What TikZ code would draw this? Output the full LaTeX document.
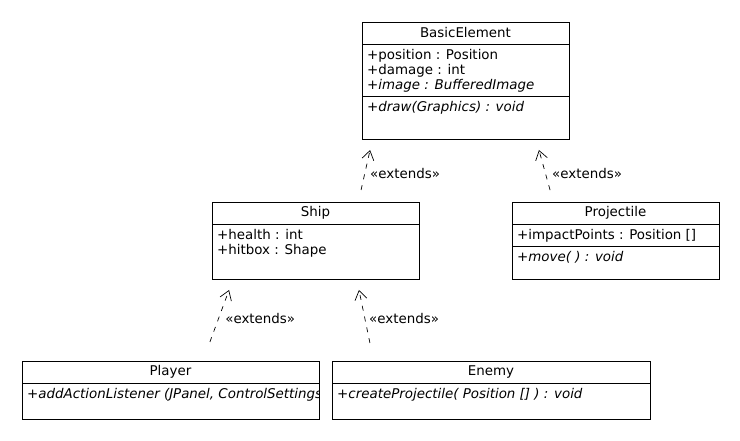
\documentclass[tikz,border=0pt]{standalone}
\usepackage{fontspec}
\setmainfont{DejaVu Sans}
\usetikzlibrary{arrows.meta}

\tikzset{
  umlfont/.style={font=\fontsize{13.4}{15}\selectfont},
  head/.style={draw, line width=0.8pt, minimum height=22pt, inner sep=0pt, outer sep=0pt, umlfont},
  part/.style={draw, line width=0.8pt, inner sep=0pt, outer sep=0pt, anchor=north},
  members/.style={anchor=north west, align=left, inner sep=0pt, xshift=5pt, yshift=-5pt, umlfont},
  ext/.style={-{Straight Barb[length=9pt,width=12pt]}, dash pattern=on 5pt off 6pt, line width=0.7pt},
  stereo/.style={anchor=west, inner sep=0pt, umlfont}
}

\begin{document}
\begin{tikzpicture}[x=1pt, y=-1pt]
    \useasboundingbox (0,0) rectangle (740,440);

    \node[head, minimum width=207pt] (be) at (465.5,33) {BasicElement};
    \node[part, minimum width=207pt, minimum height=52pt] (bea) at (be.south) {};
    \node[part, minimum width=207pt, minimum height=43pt] (beo) at (bea.south) {};
    \node[members] (beattr) at (bea.north west) {+position : Position\\+damage : int\\\textit{+image : BufferedImage}};
    \node[members] (beops) at (beo.north west) {\textit{+draw(Graphics) : void}};

    \node[head, minimum width=207pt] (ship) at (315.5,213) {Ship};
    \node[part, minimum width=207pt, minimum height=55pt] (shipa) at (ship.south) {};
    \node[members] (shipattr) at (shipa.north west) {+health : int\\+hitbox : Shape};

    \node[head, minimum width=207pt] (prj) at (615.5,213) {Projectile};
    \node[part, minimum width=207pt, minimum height=22pt] (prja) at (prj.south) {};
    \node[part, minimum width=207pt, minimum height=33pt] (prjo) at (prja.south) {};
    \node[members] (prjattr) at (prja.north west) {+impactPoints : Position []};
    \node[members] (prjops) at (prjo.north west) {\textit{+move( ) : void}};

    \node[head, minimum width=297pt] (pl) at (170.5,372) {Player};
    \node[part, minimum width=297pt, minimum height=36pt] (plo) at (pl.south) {};
    \begin{scope}
      \clip (plo.south west) rectangle (plo.north east);
      \node[members] (plops) at (plo.north west) {\textit{+addActionListener (JPanel, ControlSettings}};
    \end{scope}

    \node[head, minimum width=318pt] (en) at (491,372) {Enemy};
    \node[part, minimum width=318pt, minimum height=36pt] (eno) at (en.south) {};
    \node[members] (enops) at (eno.north west) {\textit{+createProjectile( Position [] ) : void}};

    \path (ship.north west) -- (ship.north east) coordinate[pos=0.707](s1);
    \path (beo.south west) -- (beo.south east) coordinate[pos=0.051](b1) coordinate[pos=0.84](b2);
    \path (prj.north west) -- (prj.north east) coordinate[pos=0.2](p1);
    \path (shipa.south west) -- (shipa.south east) coordinate[pos=0.102](s2) coordinate[pos=0.699](s3);
    \path (pl.north west) -- (pl.north east) coordinate[pos=0.609](l1);
    \path (en.north west) -- (en.north east) coordinate[pos=0.131](e1);

    \draw[ext, shorten <=12.3pt, shorten >=11.3pt] (s1) -- (b1) node[stereo, pos=0.46, xshift=5pt]{«extends»};
    \draw[ext, shorten <=12.4pt, shorten >=11.4pt] (p1) -- (b2) node[stereo, pos=0.46, xshift=6.5pt]{«extends»};
    \draw[ext, shorten <=20.3pt, shorten >=11.7pt] (l1) -- (s2) node[stereo, pos=0.52, xshift=6.4pt]{«extends»};
    \draw[ext, shorten <=18.4pt, shorten >=11.2pt] (e1) -- (s3) node[stereo, pos=0.52, xshift=4pt]{«extends»};
  \end{tikzpicture}
\end{document}
